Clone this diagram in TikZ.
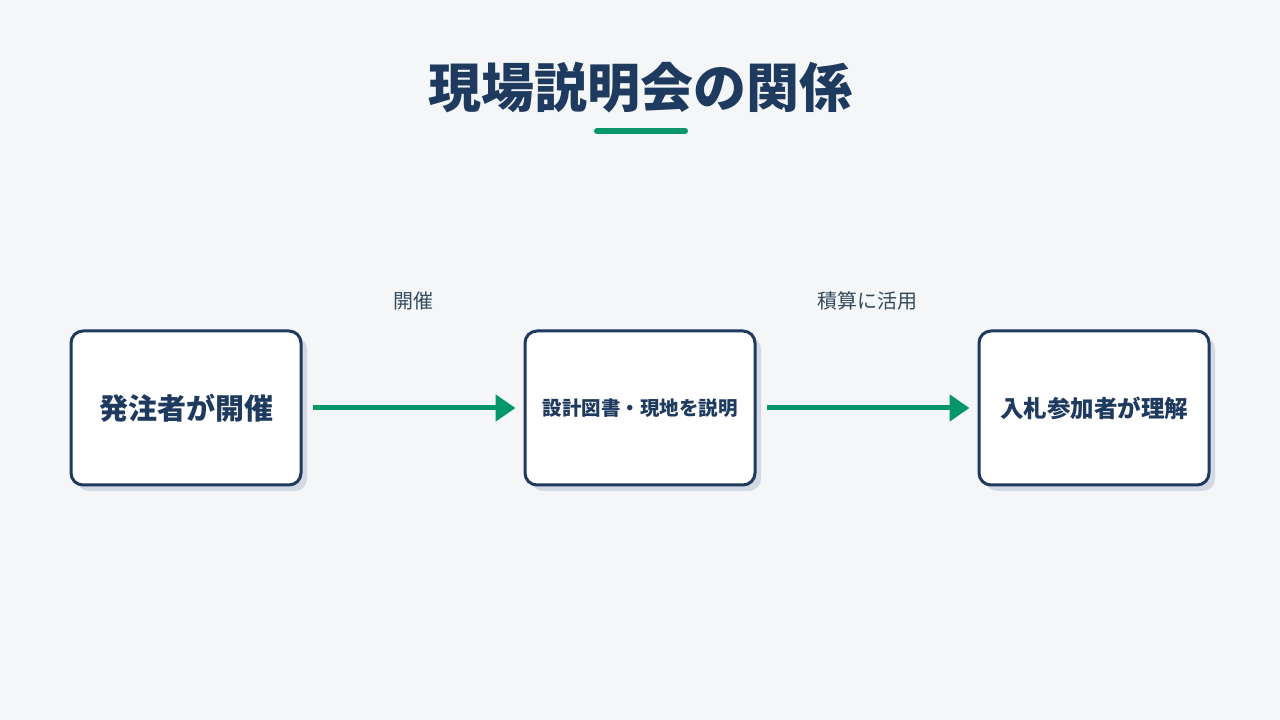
\documentclass[tikz,border=0pt]{standalone}
\usepackage{fontspec}
\setmainfont{Noto Sans CJK JP}
\usetikzlibrary{arrows.meta, positioning, shadows}
\definecolor{Navy}{HTML}{1E3A5F}
\definecolor{CGreen}{HTML}{059669}
\definecolor{BgGray}{HTML}{F4F6F8}
\definecolor{Shade}{HTML}{D3D9E2}
\definecolor{LabelC}{HTML}{34495E}

\begin{document}
\begin{tikzpicture}[x=1pt, y=1pt,
    stage/.style={draw=Navy, line width=3pt, fill=white, rounded corners=12pt,
        minimum width=230pt, minimum height=154pt, align=center,
        text=Navy, font=\bfseries,
        drop shadow={shadow xshift=6pt, shadow yshift=-6pt, fill=Shade, opacity=1}},
    flow/.style={CGreen, line width=5pt, -{Triangle[length=20pt, width=26pt]},
        shorten <=10pt, shorten >=8pt},
    lbl/.style={text=LabelC, font=\fontsize{20}{24}\selectfont}]
    % Background
    \fill[BgGray] (0, 0) rectangle (1280, 720);
    \useasboundingbox (0, 0) rectangle (1280, 720);

    % Title
    \node[text=Navy, font=\bfseries\fontsize{53}{60}\selectfont] (title) at (640, 632) {現場説明会の関係};
    \draw[CGreen, line width=6pt, line cap=round] (597, 589) -- (685, 589);

    % Stages
    \node[stage, font=\bfseries\fontsize{29}{34}\selectfont] (host) at (186, 312) {発注者が開催};
    \node[stage, font=\bfseries\fontsize{19.5}{24}\selectfont] (explain) at (640, 312) {設計図書・現地を説明};
    \node[stage, font=\bfseries\fontsize{23.5}{28}\selectfont] (bidder) at (1094, 312) {入札参加者が理解};

    % Connectors
    \draw[flow] (host.east) -- (explain.west) node[lbl, midway, above=92pt] (lblhost) {開催};
    \draw[flow] (explain.east) -- (bidder.west) node[lbl, midway, above=92pt] (lbluse) {積算に活用};

\end{tikzpicture}
\end{document}
